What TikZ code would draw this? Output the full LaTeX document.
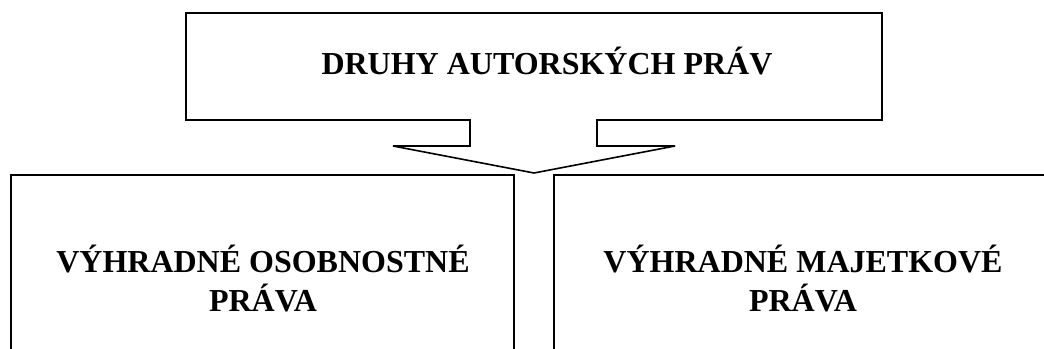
\documentclass[tikz,border=0pt]{standalone}
\usepackage{fontspec}
\setmainfont{Liberation Serif}
\usetikzlibrary{positioning}
\tikzset{
  caption/.style={font=\bfseries\fontsize{24}{29.3}\selectfont, align=center, inner sep=0pt},
  frame/.style={line width=0.9pt},
}

\begin{document}
\begin{tikzpicture}[x=0.75pt,y=-0.75pt]
              \useasboundingbox (0,0) rectangle (1044,349);
              \draw[line width=1.2pt, line join=miter] (186,13) -- (882,13) -- (882,120) -- (597,120) -- (597,146)
                -- (675,146) -- (534,173) -- (393,146) -- (470,146) -- (470,120) -- (186,120) -- cycle;
              \node[caption, anchor=base] (druhy) at (547,75) {DRUHY AUTORSKÝCH PRÁV};
              \draw[frame] (11,360) |- (514,175) -- (514,360);
              \draw[frame] (554,360) |- (1057,175) -- (1057,360);
              \node[caption, anchor=north] (osobne) at (263,245) {VÝHRADNÉ OSOBNOSTNÉ\\PRÁVA};
              \node[caption, anchor=north] (majetk) at (803,245) {VÝHRADNÉ MAJETKOVÉ\\PRÁVA};
            \end{tikzpicture}
\end{document}
